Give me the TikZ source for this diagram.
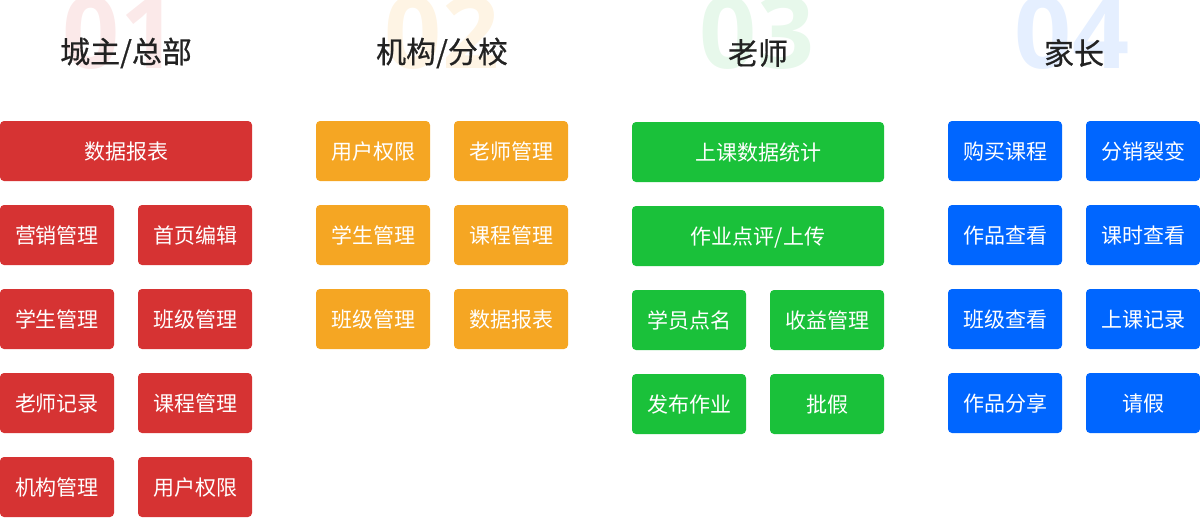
\documentclass[tikz,border=0pt]{standalone}
\usepackage{fontspec}
\setmainfont{Noto Sans CJK SC}
\newfontfamily\headfont[FakeBold=0.6]{Noto Sans CJK SC}
\newfontfamily\numfont{Open Sans}
\definecolor{cred}{HTML}{D63333}
\definecolor{corange}{HTML}{F5A623}
\definecolor{cgreen}{HTML}{1AC13A}
\definecolor{cblue}{HTML}{0066FF}
\definecolor{nred}{HTML}{FBE9E9}
\definecolor{norange}{HTML}{FEF4E4}
\definecolor{ngreen}{HTML}{E7F8EB}
\definecolor{nblue}{HTML}{E5EFFF}
\definecolor{htext}{HTML}{222222}
\begin{document}
\begin{tikzpicture}[x=1pt,y=-1pt,
  bignum/.style={font=\numfont\bfseries\fontsize{100}{100}\selectfont, anchor=base, inner sep=0pt},
  head/.style={font=\headfont\fontsize{30}{30}\selectfont, text=htext, inner sep=0pt},
  box/.style={rounded corners=4pt, text=white, font=\fontsize{21}{21}\selectfont, inner sep=0pt, minimum height=60pt, text height=18.5pt, text depth=2.5pt},
  sbox/.style={box, minimum width=114pt},
  wbox/.style={box, minimum width=252pt}]
\useasboundingbox (0,0) rectangle (1200,517);
% big faded numbers
\node[bignum, text=nred] (n1) at (120,68) {01};
\node[bignum, text=norange] (n2) at (442,68) {02};
\node[bignum, text=ngreen] (n3) at (757,68) {03};
\node[bignum, text=nblue] (n4) at (1072,68) {04};
% headers
\node[head] (h1) at (126,53) {城主/总部};
\node[head] (h2) at (442,53) {机构/分校};
\node[head] (h3) at (758,53) {老师};
\node[head] (h4) at (1074,53) {家长};
% column 1
\node[wbox, fill=cred] (a1) at (126,151) {数据报表};
\node[sbox, fill=cred] (a2) at (57,235) {营销管理};
\node[sbox, fill=cred] (a3) at (195,235) {首页编辑};
\node[sbox, fill=cred] (a4) at (57,319) {学生管理};
\node[sbox, fill=cred] (a5) at (195,319) {班级管理};
\node[sbox, fill=cred] (a6) at (57,403) {老师记录};
\node[sbox, fill=cred] (a7) at (195,403) {课程管理};
\node[sbox, fill=cred] (a8) at (57,487) {机构管理};
\node[sbox, fill=cred] (a9) at (195,487) {用户权限};
% column 2
\node[sbox, fill=corange] (b1) at (373,151) {用户权限};
\node[sbox, fill=corange] (b2) at (511,151) {老师管理};
\node[sbox, fill=corange] (b3) at (373,235) {学生管理};
\node[sbox, fill=corange] (b4) at (511,235) {课程管理};
\node[sbox, fill=corange] (b5) at (373,319) {班级管理};
\node[sbox, fill=corange] (b6) at (511,319) {数据报表};
% column 3
\node[wbox, fill=cgreen] (c1) at (758,152) {上课数据统计};
\node[wbox, fill=cgreen] (c2) at (758,236) {作业点评/上传};
\node[sbox, fill=cgreen] (c3) at (689,320) {学员点名};
\node[sbox, fill=cgreen] (c4) at (827,320) {收益管理};
\node[sbox, fill=cgreen] (c5) at (689,404) {发布作业};
\node[sbox, fill=cgreen] (c6) at (827,404) {批假};
% column 4
\node[sbox, fill=cblue] (d1) at (1005,151) {购买课程};
\node[sbox, fill=cblue] (d2) at (1143,151) {分销裂变};
\node[sbox, fill=cblue] (d3) at (1005,235) {作品查看};
\node[sbox, fill=cblue] (d4) at (1143,235) {课时查看};
\node[sbox, fill=cblue] (d5) at (1005,319) {班级查看};
\node[sbox, fill=cblue] (d6) at (1143,319) {上课记录};
\node[sbox, fill=cblue] (d7) at (1005,403) {作品分享};
\node[sbox, fill=cblue] (d8) at (1143,403) {请假};
\end{tikzpicture}
\end{document}
